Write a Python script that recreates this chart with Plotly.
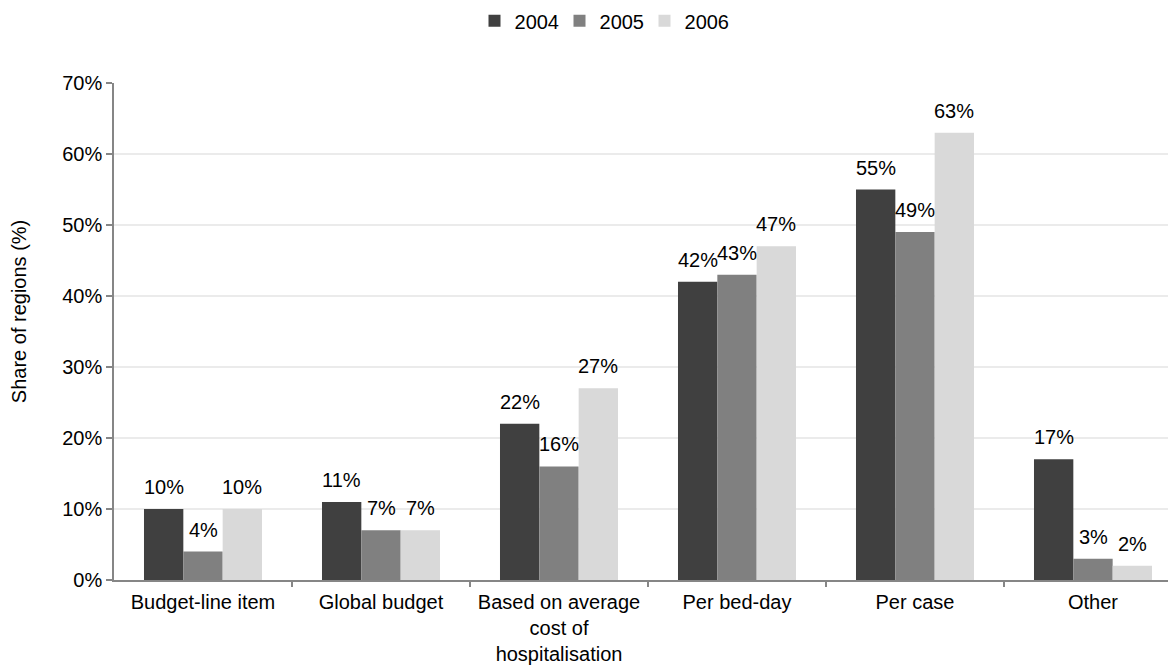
import plotly.graph_objects as go

# Payment method categories and share of regions per year (fractions)
categories = ["Budget-line item", "Global budget", "Based on average<br>cost of<br>hospitalisation",
              "Per bed-day", "Per case", "Other"]
years = ["2004", "2005", "2006"]
share_2004 = [0.10, 0.11, 0.22, 0.42, 0.55, 0.17]
share_2005 = [0.04, 0.07, 0.16, 0.43, 0.49, 0.03]
share_2006 = [0.10, 0.07, 0.27, 0.47, 0.63, 0.02]
y_ticks = [0, 0.1, 0.2, 0.3, 0.4, 0.5, 0.6, 0.7]
y_title = "Share of regions (%)"

series = [share_2004, share_2005, share_2006]
colors = ["#404040", "#808080", "#d9d9d9"]

FONT = "Liberation Sans, Arial, sans-serif"
bar_w = 0.221          # width of one bar in category units
centers = list(range(len(categories)))

fig = go.Figure()
annotations = []
for j, (name, vals, col) in enumerate(zip(years, series, colors)):
    xs = [c + (j - 1) * bar_w for c in centers]
    fig.add_trace(go.Bar(
        x=xs, y=vals, width=bar_w, name=name,
        marker=dict(color=col, line=dict(width=0)),
        hoverinfo="skip",
    ))
    for x, v in zip(xs, vals):
        annotations.append(dict(
            x=x, y=v, xref="x", yref="y", text=f"{round(v * 100)}%",
            showarrow=False, yanchor="bottom", yshift=9,
            font=dict(family=FONT, size=20, color="#000000"),
        ))

# vertical axis title
annotations.append(dict(
    x=-0.0901, y=0.539, xref="paper", yref="paper", text=y_title,
    textangle=-90, showarrow=False, xanchor="center", yanchor="middle",
    font=dict(family=FONT, size=20, color="#000000"),
))

fig.update_layout(
    width=1168, height=666,
    margin=dict(l=114, r=0, t=83, b=86),
    paper_bgcolor="white", plot_bgcolor="white",
    barmode="overlay",
    font=dict(family=FONT, size=20, color="#000000"),
    showlegend=True,
    legend=dict(orientation="h", x=0.463, xanchor="center", y=0.998, yanchor="top",
                yref="container", font=dict(size=20), traceorder="normal",
                entrywidth=40, entrywidthmode="pixels"),
    annotations=annotations,
    xaxis=dict(
        range=[-0.5, -0.5 + 1054 / 178], tickmode="array", tickvals=centers,
        ticktext=categories, ticks="", showgrid=False, zeroline=False,
        showline=True, linecolor="#868686", linewidth=1.5, automargin=False,
        tickfont=dict(size=20), ticklabelstandoff=3, fixedrange=True,
        minor=dict(tickvals=[c + 0.5 for c in centers], ticks="outside", ticklen=5,
                   tickcolor="#868686", tickwidth=1.5, showgrid=False),
    ),
    yaxis=dict(
        range=[0, 0.7], tickvals=y_ticks, tickformat=".0%", automargin=False,
        ticks="outside", ticklen=6, tickcolor="#868686", tickwidth=1.5,
        showline=True, linecolor="#868686", linewidth=1.5,
        showgrid=True, gridcolor="#ebebeb", gridwidth=1.5, zeroline=False,
        tickfont=dict(size=20),
    ),
)

fig.write_html("out.html")
